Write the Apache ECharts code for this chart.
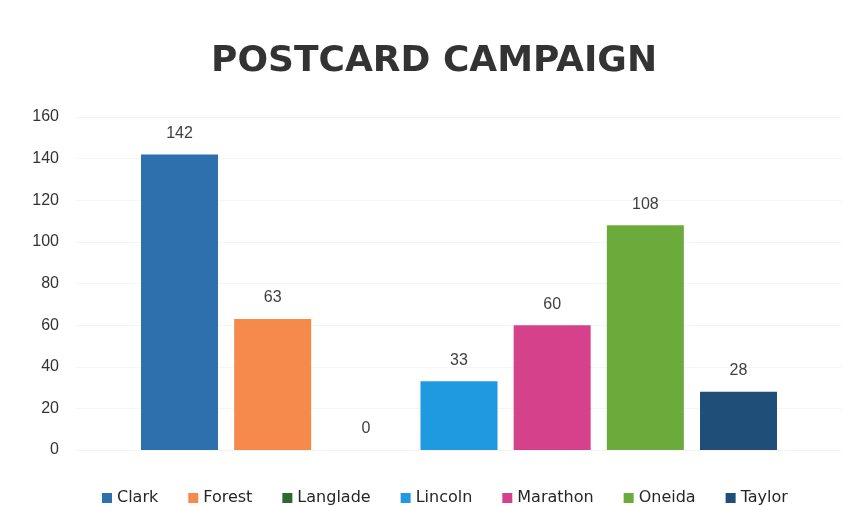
<!DOCTYPE html>
<html>
<head>
<meta charset="utf-8">
<script src="https://cdn.jsdelivr.net/npm/echarts@6/dist/echarts.min.js"></script>
<style>html,body{margin:0;padding:0;background:#fff;}#chart{width:850px;height:506px;}</style>
</head>
<body>
<div id="chart"></div>
<script>
const titleText = 'POSTCARD CAMPAIGN';
const counties = ['Clark', 'Forest', 'Langlade', 'Lincoln', 'Marathon', 'Oneida', 'Taylor'];
const postcards = [142, 63, 0, 33, 60, 108, 28];
const barColors = ['#2e6fad', '#f58a4b', '#2c6a2f', '#1f9ae0', '#d5418b', '#6aab3b', '#1f4e78'];
const yTicks = { min: 0, max: 160, interval: 20 };

const chart = echarts.init(document.getElementById('chart'));
const series = counties.map((name, i) => ({
  name: name,
  type: 'bar',
  data: [postcards[i]],
  barWidth: 77,
  barGap: '21%',
  itemStyle: { color: barColors[i] },
  label: {
    show: true,
    position: 'top',
    distance: 13,
    color: '#404040',
    fontSize: 16,
    fontFamily: 'Liberation Sans, Arial, sans-serif'
  }
}));

chart.setOption({
  backgroundColor: '#ffffff',
  animation: false,
  title: {
    text: titleText,
    left: 206,
    top: 39,
    textStyle: {
      fontSize: 36,
      fontWeight: 'bold',
      color: '#333333',
      fontFamily: 'DejaVu Sans, sans-serif'
    }
  },
  legend: {
    top: 485,
    left: 97,
    icon: 'rect',
    itemWidth: 10,
    itemHeight: 10,
    itemGap: 30,
    textStyle: { fontSize: 16, color: '#262626', fontFamily: 'DejaVu Sans, sans-serif' },
    data: counties
  },
  grid: { left: 76, right: 8, top: 117, bottom: 56 },
  xAxis: {
    type: 'category',
    data: [''],
    axisLine: { show: false },
    axisTick: { show: false },
    axisLabel: { show: false }
  },
  yAxis: {
    type: 'value',
    min: yTicks.min,
    max: yTicks.max,
    interval: yTicks.interval,
    axisLine: { show: false },
    axisTick: { show: false },
    splitLine: { lineStyle: { color: '#f5f5f5' } },
    axisLabel: {
      color: '#333333',
      fontSize: 16,
      margin: 17,
      fontFamily: 'Liberation Sans, Arial, sans-serif'
    }
  },
  series: series
});
</script>
</body>
</html>
